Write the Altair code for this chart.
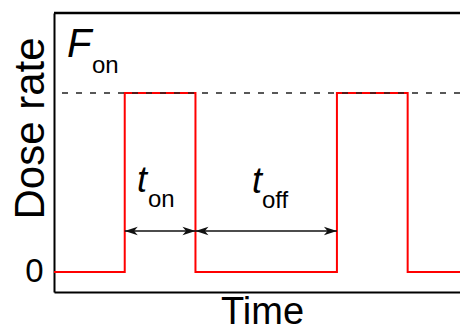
import altair as alt
import pandas as pd

# ---- data ----
time_pts = [0, 1, 2, 4, 5, 5.74]          # step change times (arbitrary time units)
dose_vals = [0, 1, 0, 1, 0, 0]            # dose rate after each change (F_on = 1)
f_on_level = [1.0]
x_domain = [0, 5.74]
y_domain = [-0.112, 1.447]
y_tick_values = [0]

arrow_names = ["t_on", "t_off"]
arrow_start = [1, 2]
arrow_end = [2, 4]
arrow_level = [0.229, 0.229]

main_text = ["F", "t", "t"]
main_x = [0.184, 1.173, 2.798]
main_y = [1.201, 0.447, 0.441]
main_size = [40, 36, 36]

sub_text = ["on", "on", "off"]
sub_x = [0.537, 1.328, 2.939]
sub_y = [1.112, 0.363, 0.358]

FONT = "Liberation Sans"

pulse_df = pd.DataFrame({"t": time_pts, "v": dose_vals})
level_df = pd.DataFrame({"v": f_on_level})
arrow_df = pd.DataFrame({"name": arrow_names, "x0": arrow_start, "x1": arrow_end, "y": arrow_level})
main_df = pd.DataFrame({"label": main_text, "x": main_x, "y": main_y, "s": main_size})
sub_df = pd.DataFrame({"label": sub_text, "x": sub_x, "y": sub_y})

xs = alt.Scale(domain=x_domain, nice=False, zero=False)
ys = alt.Scale(domain=y_domain, nice=False, zero=False)

x_axis = alt.Axis(
    title="Time", labels=False, ticks=False, grid=False,
    domainColor="black", domainWidth=2,
    titleFont=FONT, titleFontSize=38, titleFontWeight="normal", titleColor="black",
    titleX=208, titleY=31, titleBaseline="alphabetic", titleAlign="center",
)
y_axis = alt.Axis(
    title="Dose rate", values=y_tick_values, format="d", ticks=False, grid=False,
    domainColor="black", domainWidth=2,
    labelFont=FONT, labelFontSize=33, labelColor="black", labelPadding=11,
    titleFont=FONT, titleFontSize=42, titleFontWeight="normal", titleColor="black",
    titleAngle=270, titleX=-11, titleY=115, titleBaseline="alphabetic", titleAlign="center",
)

pulse = alt.Chart(pulse_df).mark_line(
    color="#ff0000", strokeWidth=2, interpolate="step-after"
).encode(
    x=alt.X("t:Q", scale=xs, axis=x_axis),
    y=alt.Y("v:Q", scale=ys, axis=y_axis),
)

level = alt.Chart(level_df).mark_rule(
    color="#222222", strokeWidth=1.5, strokeDash=[6, 8]
).encode(y=alt.Y("v:Q", scale=ys))

top_border = alt.Chart(level_df).mark_rule(color="black", strokeWidth=2.5).encode(
    y=alt.value(0)
)

arrow_lines = alt.Chart(arrow_df).mark_rule(color="#111111", strokeWidth=1.5).encode(
    x=alt.X("x0:Q", scale=xs), x2="x1:Q", y=alt.Y("y:Q", scale=ys)
)

left_head = "M0,0 L2,-0.65 L1.45,0 L2,0.65 Z"
right_head = "M0,0 L-2,-0.65 L-1.45,0 L-2,0.65 Z"

heads_left = alt.Chart(arrow_df).mark_point(
    shape=left_head, filled=True, opacity=1, color="#111111", size=169, strokeWidth=0
).encode(x=alt.X("x0:Q", scale=xs), y=alt.Y("y:Q", scale=ys))

heads_right = alt.Chart(arrow_df).mark_point(
    shape=right_head, filled=True, opacity=1, color="#111111", size=169, strokeWidth=0
).encode(x=alt.X("x1:Q", scale=xs), y=alt.Y("y:Q", scale=ys))

main_labels = alt.Chart(main_df).mark_text(
    font=FONT, fontStyle="italic", align="left", baseline="alphabetic", color="black"
).encode(
    x=alt.X("x:Q", scale=xs), y=alt.Y("y:Q", scale=ys),
    text="label:N", size=alt.Size("s:Q", scale=None, legend=None),
)

sub_labels = alt.Chart(sub_df).mark_text(
    font=FONT, fontSize=24, align="left", baseline="alphabetic", color="black"
).encode(
    x=alt.X("x:Q", scale=xs), y=alt.Y("y:Q", scale=ys), text="label:N"
)

chart = alt.layer(
    pulse, level, top_border, arrow_lines, heads_left, heads_right, main_labels, sub_labels
).properties(
    width=406, height=279,
    autosize=alt.AutoSizeParams(type="none"),
    padding={"left": 46, "top": 5, "right": 0, "bottom": 33},
).configure_view(stroke=None).configure(font=FONT)

chart.save("out.html", embed_options={"renderer": "svg", "actions": False})
